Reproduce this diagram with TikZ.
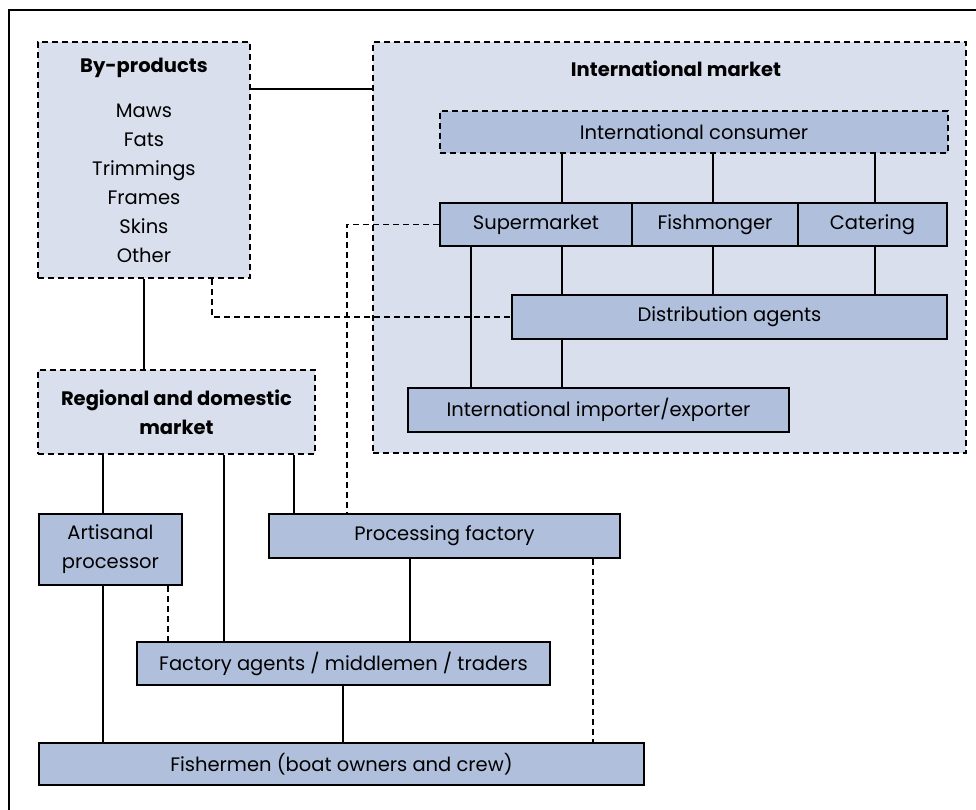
\documentclass[tikz,border=0pt]{standalone}
\usepackage{fontspec}
\setmainfont{Poppins}
\usetikzlibrary{positioning}
\definecolor{grpfill}{RGB}{218,223,237}
\definecolor{boxfill}{RGB}{176,191,220}

\begin{document}
\begin{tikzpicture}[
    x=1pt, y=-1pt,
    txt/.style={font=\fontsize{19.5}{29}\selectfont, align=center, inner sep=0pt},
    group/.style={txt, draw, fill=grpfill, dash pattern=on 6pt off 4pt, line width=1.9pt, anchor=north west},
    block/.style={txt, draw, fill=boxfill, line width=1.9pt, anchor=north west},
    dblock/.style={block, dash pattern=on 6pt off 4pt},
    link/.style={line width=1.7pt},
    dlink/.style={line width=1.7pt, dash pattern=on 6pt off 4pt}
]
\useasboundingbox (0,0) rectangle (976,810);

% Frame
\draw[line width=2.5pt] (976,10) -- (9,10) -- (9,810);

% Groups
\node[group, minimum width=212pt, minimum height=236pt] (byprod) at (37,41)
    {\textbf{By-products}\\[16pt]Maws\\Fats\\Trimmings\\Frames\\Skins\\Other};
\node[group, minimum width=593pt, minimum height=411pt] (intl) at (372,41) {};
\node[txt, font=\fontsize{19.5}{29}\selectfont\bfseries] (intltitle) at (676,69) {International market};
\node[group, minimum width=277pt, minimum height=84pt] (regional) at (37,369)
    {\textbf{Regional and domestic}\\\textbf{market}};

% International chain
\node[dblock, minimum width=508pt, minimum height=42pt] (consumer) at (439,110) {International consumer};
\node[block, minimum width=192pt, minimum height=43pt] (super) at (439,202) {Supermarket};
\node[block, minimum width=166pt, minimum height=43pt] (fishm) at (631,202) {Fishmonger};
\node[block, minimum width=149pt, minimum height=43pt] (cater) at (797,202) {Catering};
\node[block, minimum width=435pt, minimum height=44pt] (dist) at (511,294) {Distribution agents};
\node[block, minimum width=381pt, minimum height=44pt] (import) at (407,387) {International importer/exporter};

% Local chain
\node[block, minimum width=143pt, minimum height=71pt] (artisan) at (38,513) {Artisanal\\processor};
\node[block, minimum width=351pt, minimum height=44pt] (factory) at (268,513) {Processing factory};
\node[block, minimum width=413pt, minimum height=43pt] (agents) at (136,641) {Factory agents / middlemen / traders};
\node[block, minimum width=605pt, minimum height=42pt] (fisher) at (38,742) {Fishermen (boat owners and crew)};

% Links inside international market
\draw[link] (562,0 |- consumer.south) -- (562,0 |- super.north);
\draw[link] (713,0 |- consumer.south) -- (713,0 |- fishm.north);
\draw[link] (875,0 |- consumer.south) -- (875,0 |- cater.north);
\draw[link] (562,0 |- super.south) -- (562,0 |- dist.north);
\draw[link] (713,0 |- fishm.south) -- (713,0 |- dist.north);
\draw[link] (875,0 |- cater.south) -- (875,0 |- dist.north);
\draw[link] (471,0 |- super.south) -- (471,0 |- import.north);
\draw[link] (562,0 |- dist.south) -- (562,0 |- import.north);

% Links between groups
\draw[link] (byprod.east |- 0,89) -- (intl.west |- 0,89);
\draw[link] (144,0 |- byprod.south) -- (144,0 |- regional.north);
\draw[dlink] (212,0 |- byprod.south) |- (dist.west);
\draw[dlink] (super.west) -| (347,0 |- factory.north);

% Links in local chain
\draw[link] (103,0 |- regional.south) -- (103,0 |- artisan.north);
\draw[link] (224,0 |- regional.south) -- (224,0 |- agents.north);
\draw[link] (294,0 |- regional.south) -- (294,0 |- factory.north);
\draw[link] (103,0 |- artisan.south) -- (103,0 |- fisher.north);
\draw[dlink] (168,0 |- artisan.south) -- (168,0 |- agents.north);
\draw[link] (410,0 |- factory.south) -- (410,0 |- agents.north);
\draw[dlink] (593,0 |- factory.south) -- (593,0 |- fisher.north);
\draw[link] (343,0 |- agents.south) -- (343,0 |- fisher.north);

\end{tikzpicture}
\end{document}
